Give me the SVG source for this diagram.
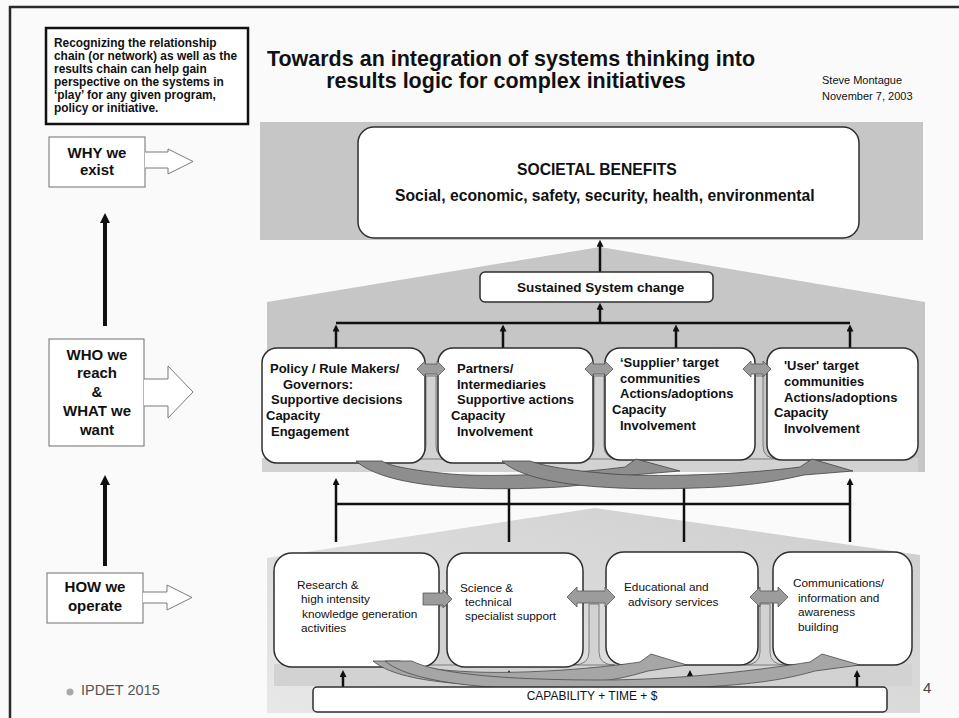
<svg xmlns="http://www.w3.org/2000/svg" width="959" height="718" viewBox="0 0 959 718">
  <defs>
    <style>
      text { font-family: "Liberation Sans", Arial, Helvetica, sans-serif; fill: #111; }
      .b { font-weight: bold; }
      .frame { stroke: #2a2a2a; stroke-width: 2.5; fill: none; }
      .band { fill: #c6c6c6; }
      .box { fill: #ffffff; stroke: #2e2e2e; stroke-width: 1.5; }
      .lbox { fill: #ffffff; stroke: #6e6e6e; stroke-width: 1; }
      .larrow { fill: #ffffff; stroke: #7a7a7a; stroke-width: 1; }
      .stem { fill: #d2d2d2; stroke: #666; stroke-width: 0.8; }
      .trunk { fill: #d2d2d2; }
      .gap { fill: #9c9c9c; stroke: #555; stroke-width: 0.8; }
      .sweep { fill: #8e8e8e; stroke: #444; stroke-width: 0.8; }
      .sweep2 { fill: #a6a6a6; stroke: #4a4a4a; stroke-width: 0.8; }
      .conn line { stroke: #111; stroke-width: 2.5; }
      .up { marker-end: url(#ah); }
      .spine { stroke: #111; stroke-width: 4; marker-end: url(#ahLong); }
      .m { font-size: 13px; font-weight: bold; }
      .s { font-size: 11.8px; }
    </style>
    <marker id="ah" viewBox="0 0 10 10" refX="3" refY="5" markerWidth="8" markerHeight="7" markerUnits="userSpaceOnUse" orient="auto">
      <path d="M0,0 L10,5 L0,10 z" fill="#111"/>
    </marker>
    <marker id="ahLong" viewBox="0 0 10 10" refX="3" refY="5" markerWidth="34" markerHeight="10" markerUnits="userSpaceOnUse" orient="auto">
      <path d="M0,0 L10,5 L0,10 z" fill="#111"/>
    </marker>
    <linearGradient id="lowShade" x1="1" y1="0" x2="0" y2="1">
      <stop offset="0" stop-color="#cdcdcd"/>
      <stop offset="1" stop-color="#e8e8e8"/>
    </linearGradient>
  </defs>

  <!-- slide background and frame -->
  <rect x="0" y="0" width="959" height="718" fill="#fafafa"/>
  <path class="frame" d="M10,718 V7 H959"/>

  <!-- note box -->
  <g id="note">
    <rect x="46" y="28" width="202" height="96" fill="#fff" stroke="#111" stroke-width="2.5"/>
    <text class="b" font-size="11.9" x="54" y="47">Recognizing the relationship</text>
    <text class="b" font-size="11.9" x="54" y="60">chain (or network) as well as the</text>
    <text class="b" font-size="11.9" x="54" y="73">results chain can help gain</text>
    <text class="b" font-size="11.9" x="54" y="86">perspective on the systems in</text>
    <text class="b" font-size="11.9" x="54" y="99">‘play’ for any given program,</text>
    <text class="b" font-size="11.9" x="54" y="112">policy or initiative.</text>
  </g>

  <!-- title and author -->
  <g id="title">
    <text class="b" font-size="21.5" x="511" y="66" text-anchor="middle">Towards an integration of systems thinking into</text>
    <text class="b" font-size="21.5" x="506" y="88" text-anchor="middle">results logic for complex initiatives</text>
    <text font-size="11" x="822" y="84">Steve Montague</text>
    <text font-size="11" x="822" y="100">November 7, 2003</text>
  </g>

  <!-- shaded tiers -->
  <rect class="band" x="260" y="122" width="663" height="118"/>
  <polygon class="band" points="267,302 600,247 925,302 925,472 267,472"/>
  <polygon fill="url(#lowShade)" points="267,558 595,508 920,555 920,713 267,713"/>

  <!-- left column: levels -->
  <g id="why">
    <rect class="lbox" x="49" y="137" width="96" height="50"/>
    <path class="larrow" d="M145,152 H168 V149 L193,161.5 L168,174 V168 H145"/>
    <text class="b" font-size="15" x="97" y="158" text-anchor="middle">WHY we</text>
    <text class="b" font-size="15" x="97" y="175" text-anchor="middle">exist</text>
  </g>
  <g id="who">
    <rect class="lbox" x="49" y="339" width="95" height="107"/>
    <path class="larrow" d="M144,379 H168 V366 L193,392 L168,418 V406 H144"/>
    <text class="b" font-size="15" x="97" y="360" text-anchor="middle">WHO we</text>
    <text class="b" font-size="15" x="97" y="378" text-anchor="middle">reach</text>
    <text class="b" font-size="15" x="97" y="397" text-anchor="middle">&amp;</text>
    <text class="b" font-size="15" x="97" y="416" text-anchor="middle">WHAT we</text>
    <text class="b" font-size="15" x="97" y="435" text-anchor="middle">want</text>
  </g>
  <g id="how">
    <rect class="lbox" x="47" y="573" width="96" height="50"/>
    <path class="larrow" d="M143,592 H167 V585 L192,597.5 L167,610 V603 H143"/>
    <text class="b" font-size="15" x="95" y="592" text-anchor="middle">HOW we</text>
    <text class="b" font-size="15" x="95" y="611" text-anchor="middle">operate</text>
  </g>
  <g id="spines">
    <line class="spine" x1="105" y1="326" x2="105" y2="220"/>
    <line class="spine" x1="105" y1="566" x2="105" y2="482"/>
  </g>

  <!-- middle tier: trunk and stems between the reach boxes -->
  <g id="mid-flow">
    <rect class="trunk" x="262" y="458" width="656" height="14"/>
    <path class="stem" d="M426,376 V446 Q426,459 410,459 H452 Q436,459 436,446 V376 Z"/>
    <path class="stem" d="M594,376 V446 Q594,459 578,459 H620 Q604,459 604,446 V376 Z"/>
    <path class="stem" d="M753,376 V446 Q753,459 737,459 H779 Q763,459 763,446 V376 Z"/>
  </g>

  <!-- lower tier: trunk and stems between the activity boxes -->
  <g id="low-flow">
    <rect class="trunk" x="274" y="664" width="638" height="22"/>
    <path class="stem" d="M438,606 V652 Q438,665 422,665 H464 Q448,665 448,652 V606 Z"/>
    <path class="stem" d="M589,604 V652 Q589,665 573,665 H615 Q599,665 599,652 V604 Z"/>
    <path class="stem" d="M760,604 V652 Q760,665 744,665 H786 Q770,665 770,652 V604 Z"/>
  </g>

  <!-- connectors -->
  <g id="connectors" class="conn">
    <line class="up" x1="600" y1="272" x2="600" y2="244.6"/>
    <line class="up" x1="600" y1="323" x2="600" y2="307.6"/>
    <line x1="336" y1="323" x2="850" y2="323"/>
    <line class="up" x1="336" y1="348" x2="336" y2="329.5"/>
    <line class="up" x1="503" y1="348" x2="503" y2="329.5"/>
    <line class="up" x1="676" y1="348" x2="676" y2="329.5"/>
    <line class="up" x1="850" y1="348" x2="850" y2="329.5"/>
    <line x1="336" y1="504" x2="850" y2="504"/>
    <line class="up" x1="336" y1="542" x2="336" y2="483"/>
    <line class="up" x1="509" y1="542" x2="509" y2="483"/>
    <line class="up" x1="684" y1="542" x2="684" y2="483"/>
    <line class="up" x1="850" y1="542" x2="850" y2="483"/>
    <line class="up" x1="343" y1="687" x2="343" y2="675"/>
    <line class="up" x1="509" y1="687" x2="509" y2="675"/>
    <line class="up" x1="690" y1="687" x2="690" y2="675"/>
    <line class="up" x1="857" y1="687" x2="857" y2="675"/>
  </g>

  <!-- top tier -->
  <g id="societal-benefits">
    <rect class="box" x="358" y="127" width="501" height="111" rx="16"/>
    <text class="b" font-size="15.7" x="517" y="175">SOCIETAL BENEFITS</text>
    <text class="b" font-size="15.7" x="395" y="201">Social, economic, safety, security, health, environmental</text>
  </g>
  <g id="sustained-change">
    <rect class="box" x="480" y="272" width="233" height="30" rx="5"/>
    <text class="b" font-size="13.5" x="517" y="292">Sustained System change</text>
  </g>

  <!-- reach boxes -->
  <g id="policy-makers">
    <rect class="box" x="262" y="348" width="163" height="115" rx="15"/>
    <text class="m" x="270" y="373">Policy / Rule Makers/</text>
    <text class="m" x="283" y="389">Governors:</text>
    <text class="m" x="271" y="404">Supportive decisions</text>
    <text class="m" x="266" y="420">Capacity</text>
    <text class="m" x="271" y="436">Engagement</text>
  </g>
  <g id="partners">
    <rect class="box" x="438" y="348" width="155" height="115" rx="15"/>
    <text class="m" x="457" y="373">Partners/</text>
    <text class="m" x="457" y="389">Intermediaries</text>
    <text class="m" x="457" y="404">Supportive actions</text>
    <text class="m" x="451" y="420">Capacity</text>
    <text class="m" x="457" y="436">Involvement</text>
  </g>
  <g id="supplier-communities">
    <rect class="box" x="605" y="348" width="150" height="112" rx="15"/>
    <text class="m" x="620" y="367">‘Supplier’ target</text>
    <text class="m" x="620" y="383">communities</text>
    <text class="m" x="620" y="398">Actions/adoptions</text>
    <text class="m" x="612" y="414">Capacity</text>
    <text class="m" x="620" y="430">Involvement</text>
  </g>
  <g id="user-communities">
    <rect class="box" x="767" y="348" width="151" height="112" rx="15"/>
    <text class="m" x="784" y="370">'User' target</text>
    <text class="m" x="784" y="386">communities</text>
    <text class="m" x="784" y="402">Actions/adoptions</text>
    <text class="m" x="774" y="417">Capacity</text>
    <text class="m" x="784" y="433">Involvement</text>
  </g>

  <!-- exchanges between reach boxes -->
  <g id="mid-exchange">
    <path class="gap" d="M417,369 L425,361 V364 H437 V361 L445,369 L437,377 V374 H425 V377 Z"/>
    <path class="gap" d="M585,369 L593,361 V364 H605 V361 L613,369 L605,377 V374 H593 V377 Z"/>
    <path class="gap" d="M743,369 L751,361 V364 H763 V361 L771,369 L763,377 V374 H751 V377 Z"/>
    <path class="sweep" d="M356,461 C385,487 470,492 560,487 C600,484 615,479 632,475 L680,471 L636,459 L625,467 C580,473 500,478 450,474 C410,470 390,466 382,461 Z"/>
    <path class="sweep" d="M502,461 C530,487 620,492 720,487 C765,484 785,479 804,475 L853,471 L812,459 L800,467 C755,473 670,478 612,474 C565,470 545,466 530,461 Z"/>
  </g>

  <!-- activity boxes -->
  <g id="research">
    <rect class="box" x="274" y="553" width="165" height="114" rx="18"/>
    <text class="s" x="297" y="589">Research &amp;</text>
    <text class="s" x="301" y="603">high intensity</text>
    <text class="s" x="302" y="618">knowledge generation</text>
    <text class="s" x="301" y="632">activities</text>
  </g>
  <g id="science-support">
    <rect class="box" x="447" y="553" width="136" height="114" rx="18"/>
    <text class="s" x="460" y="592">Science &amp;</text>
    <text class="s" x="465" y="606">technical</text>
    <text class="s" x="465" y="620">specialist support</text>
  </g>
  <g id="advisory">
    <rect class="box" x="606" y="552" width="152" height="113" rx="18"/>
    <text class="s" x="624" y="591">Educational and</text>
    <text class="s" x="628" y="606">advisory services</text>
  </g>
  <g id="communications">
    <rect class="box" x="773" y="552" width="139" height="113" rx="18"/>
    <text class="s" x="793" y="587">Communications/</text>
    <text class="s" x="798" y="602">information and</text>
    <text class="s" x="798" y="616">awareness</text>
    <text class="s" x="798" y="631">building</text>
  </g>

  <!-- exchanges between activity boxes -->
  <g id="low-exchange">
    <path class="gap" d="M423,593 H443 V590 L452,599 L443,608 V605 H423 Z"/>
    <path class="gap" d="M567,597 L577,587 V591 H605 V587 L615,597 L605,607 V603 H577 V607 Z"/>
    <path class="gap" d="M750,597 L760,587 V591 H778 V587 L788,597 L778,607 V603 H760 V607 Z"/>
    <path class="sweep2" d="M373,661 C400,684 480,688 570,684 C610,682 630,676 648,671 L687,665 L651,654 L640,662 C600,668 530,674 475,672 C430,670 410,666 400,661 Z"/>
    <path class="sweep2" d="M385,661 C420,690 540,693 680,688 C760,685 790,678 815,671 L860,665 L822,654 L810,662 C760,670 680,680 600,680 C500,680 435,673 412,661 Z"/>
  </g>

  <!-- resources -->
  <g id="capability">
    <rect class="box" x="313" y="687" width="574" height="25" rx="4"/>
    <text font-size="12" x="592" y="700" text-anchor="middle">CAPABILITY + TIME + $</text>
  </g>

  <!-- footer -->
  <g id="footer">
    <circle cx="70" cy="692" r="3.5" fill="#a8a8a8"/>
    <text font-size="14.5" x="81" y="695" fill="#555" style="fill:#555">IPDET 2015</text>
    <text font-size="15" x="923" y="693" style="fill:#444">4</text>
  </g>
</svg>
